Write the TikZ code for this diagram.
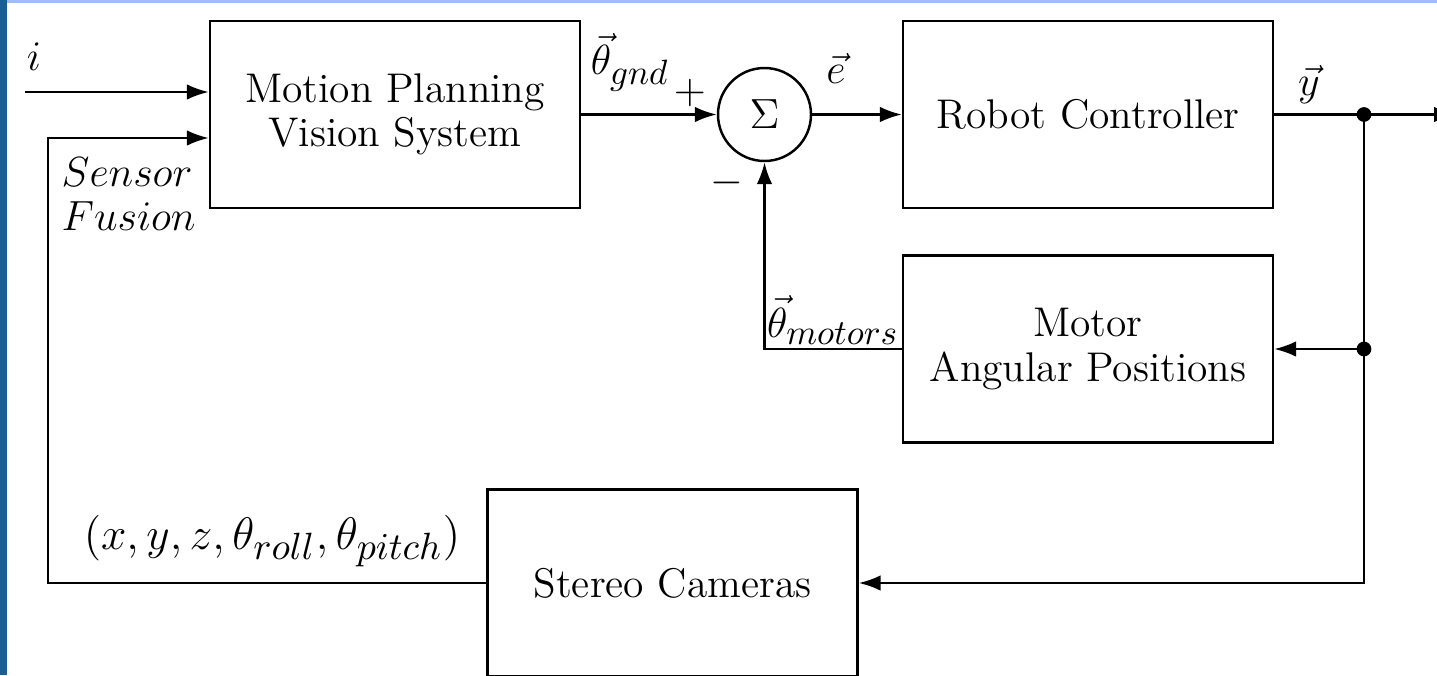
\documentclass[tikz,border=0pt]{standalone}
\usepackage{tikz}
\usetikzlibrary{calc}
\usetikzlibrary{arrows.meta}

\DeclareMathSizes{11.8}{11.8}{9.7}{7.6}
\definecolor{slideedge}{RGB}{25,95,150}
\definecolor{slidetop}{RGB}{158,188,245}

\begin{document}
\begin{tikzpicture} [x=1cm, y=-1cm, font=\fontsize{11.8}{12.6}\selectfont,
  block/.style={draw, line width=0.7pt, minimum width=3.7cm, minimum height=1.87cm, align=center, inner sep=0pt},
  sumnode/.style={draw, circle, line width=0.7pt, minimum size=0.93cm, inner sep=0pt},
  sig/.style={line width=0.7pt, -{Latex[length=6.2pt, width=4.4pt]}},
  lbl/.style={inner sep=0pt}]
\useasboundingbox (0,0) rectangle (14.37,6.75);
\fill[slideedge] (0,0) rectangle (0.07,6.75);
\fill[slidetop] (0.07,0) rectangle (14.37,0.03);

\node[block] (plan) at (3.95,1.145) {Motion Planning\\Vision System};
\node[sumnode] (sum) at (7.645,1.145) {$\Sigma$};
\node[block] (ctrl) at (10.88,1.145) {Robot Controller};
\node[block] (mot) at (10.88,3.49) {Motor\\Angular Positions};
\node[block] (cam) at (6.725,5.83) {Stereo Cameras};

\coordinate (in) at (0.25,0.92);
\coordinate (out) at (14.56,1.145);
\coordinate (ybranch) at (13.64,1.145);
\coordinate (mbranch) at (13.64,3.49);
\coordinate (fuse) at (0.48,1.38);

\draw[sig] (in) -- (in -| plan.west);
\draw[sig] (plan) -- (sum);
\draw[sig] (sum) -- (ctrl);
\draw[sig] (ctrl) -- (out);
\draw[sig] (mot.west) -| (sum.south);
\draw[sig] (ybranch) |- (cam.east);
\draw[sig] (mbranch) -- (mot.east);
\draw[sig] (cam.west) -| (fuse) -- (fuse -| plan.west);
\foreach \p in {ybranch, mbranch} \fill (\p) circle (2.1pt);

\node[lbl] (ilbl) at (0.34,0.57) {$i$};
\node[lbl, align=left, anchor=west] (fusionlbl) at (0.61,1.94) {$Sensor$\\$Fusion$};
\node[lbl] (gndlbl) at (6.3,0.62) {$\vec{\theta}_{gnd}$};
\node[lbl] (plus) at (6.9,0.925) {$+$};
\node[lbl] (minus) at (7.27,1.83) {$-$};
\node[lbl] (elbl) at (8.36,0.68) {$\vec{e}$};
\node[lbl] (ylbl) at (13.09,0.85) {$\vec{y}$};
\node[lbl] (motlbl) at (8.33,3.2) {$\vec{\theta}_{motors}$};
\node[lbl, scale=1.08, transform shape] (poselbl) at (2.72,5.41) {$(x,y,z,\theta_{roll},\theta_{pitch})$};

\end{tikzpicture}
\end{document}
